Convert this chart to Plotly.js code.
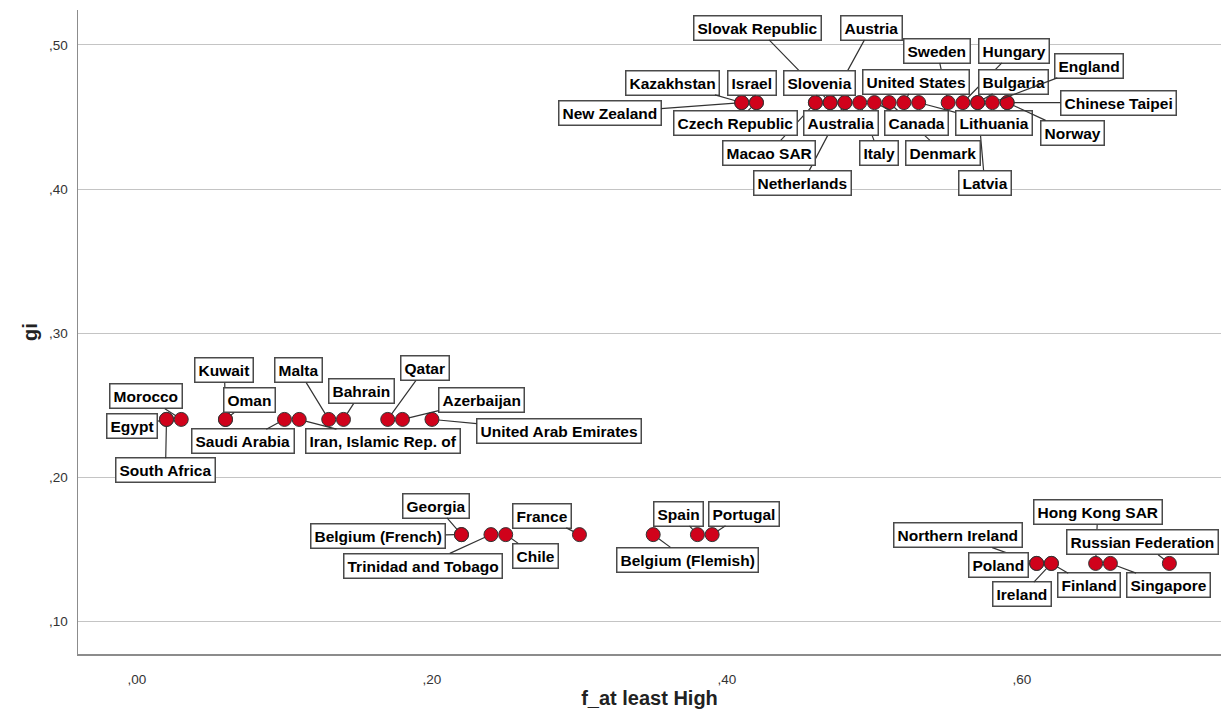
<!DOCTYPE html>
<html>
<head>
<meta charset="utf-8">
<script src="https://cdn.plot.ly/plotly-3.0.1.min.js"></script>
<style>html,body{margin:0;padding:0;background:#fff;}#chart{width:1221px;height:727px;}</style>
</head>
<body>
<div id="chart"></div>
<script>
// ---- data ----
const countries = [
  "Netherlands","Latvia","Macao SAR","Italy","Denmark",
  "Slovak Republic","Austria","Sweden","Hungary",
  "Kazakhstan","Israel","Slovenia","United States","Bulgaria","England","Chinese Taipei",
  "New Zealand","Czech Republic","Australia","Canada","Lithuania","Norway",
  "Kuwait","Malta","Qatar","South Africa",
  "Morocco","Egypt","Oman","Saudi Arabia","Iran, Islamic Rep. of","Bahrain","Azerbaijan","United Arab Emirates",
  "Georgia","Belgium (French)","Trinidad and Tobago","Chile","France","Belgium (Flemish)","Spain","Portugal",
  "Hong Kong SAR","Northern Ireland","Russian Federation","Poland","Ireland","Finland","Singapore"
];
const fAtLeastHigh = [
  0.48,0.57,0.46,0.49,0.51,
  0.47,0.47,0.55,0.56,
  0.41,0.42,0.46,0.52,0.57,0.58,0.59,
  0.41,0.42,0.48,0.50,0.53,0.59,
  0.06,0.13,0.17,0.02,
  0.03,0.02,0.06,0.10,0.11,0.14,0.18,0.20,
  0.22,0.22,0.24,0.25,0.30,0.35,0.38,0.39,
  0.65,0.61,0.70,0.61,0.62,0.62,0.66
];
const gi = [
  0.46,0.46,0.46,0.46,0.46,
  0.46,0.46,0.46,0.46,
  0.46,0.46,0.46,0.46,0.46,0.46,0.46,
  0.46,0.46,0.46,0.46,0.46,0.46,
  0.24,0.24,0.24,0.24,
  0.24,0.24,0.24,0.24,0.24,0.24,0.24,0.24,
  0.16,0.16,0.16,0.16,0.16,0.16,0.16,0.16,
  0.14,0.14,0.14,0.14,0.14,0.14,0.14
];
const xTickVals = [0, 0.2, 0.4, 0.6];
const xTickText = [",00", ",20", ",40", ",60"];
const yTickVals = [0.1, 0.2, 0.3, 0.4, 0.5];
const yTickText = [",10", ",20", ",30", ",40", ",50"];

// ---- label placement (pixel offsets of each label box from its point) ----
const labelOffsets = [
  [-42,80],[7,80],[-46,50],[19,50],[54,50],
  [-73,-75],[41,-75],[-11,-52],[51,-52],
  [-69,-20],[-4,-20],[4,-20],[12,-21],[36,-21],[97,-37],[111,0],
  [-132,10],[-21,20],[-4,20],[42,20],[75,20],[65,30],
  [-1,-49],[-30,-49],[37,-51],[-1,51],
  [-35,-23],[-34,7],[24,-19],[-41,22],[84,22],[18,-28],[79,-19],[127,12],
  [-25,-29],[-83,1],[-68,31],[30,21],[-37,-19],[34,25],[-19,-21],[32,-21],
  [2,-51],[-79,-28],[-27,-21],[-38,2],[-29,31],[38,22],[58,22]
];

const annotations = countries.map((c, i) => ({
  x: fAtLeastHigh[i], y: gi[i], xref: 'x', yref: 'y',
  text: c, showarrow: true, arrowhead: 0, arrowwidth: 1.2, arrowcolor: '#333',
  ax: labelOffsets[i][0], ay: labelOffsets[i][1], standoff: 6.5,
  font: {family: 'Liberation Sans, Arial, sans-serif', size: 15.5, color: '#000', weight: 'bold'},
  bgcolor: '#fff', bordercolor: '#4a4a4a', borderwidth: 1.5, borderpad: 3
}));

const trace = {
  type: 'scatter', mode: 'markers',
  x: fAtLeastHigh, y: gi, text: countries, hoverinfo: 'text',
  marker: {size: 14, color: '#d0021b', line: {color: '#333', width: 1}}
};

const layout = {
  width: 1221, height: 727,
  margin: {l: 78, r: 0, t: 10, b: 73},
  paper_bgcolor: '#fff', plot_bgcolor: '#fff',
  showlegend: false,
  xaxis: {
    range: [-0.04, 0.735], tickvals: xTickVals, ticktext: xTickText,
    showgrid: false, zeroline: false, showline: true, linecolor: '#8c8c8c', linewidth: 1.5,
    ticks: '', ticklabelstandoff: 12,
    tickfont: {family: 'Liberation Sans, Arial, sans-serif', size: 13.5, color: '#333'},
    title: {text: 'f_at least High', standoff: 5, font: {family: 'Liberation Sans, Arial, sans-serif', size: 20, color: '#222', weight: 'bold'}}
  },
  yaxis: {
    range: [0.0771, 0.5243], tickvals: yTickVals, ticktext: yTickText,
    showgrid: true, gridcolor: '#c4c4c4', gridwidth: 1, zeroline: false,
    showline: true, linecolor: '#8c8c8c', linewidth: 1.5, ticks: '', ticklabelstandoff: 6,
    tickfont: {family: 'Liberation Sans, Arial, sans-serif', size: 13.5, color: '#333'},
    title: {text: 'gi', standoff: 6, font: {family: 'Liberation Sans, Arial, sans-serif', size: 20, color: '#222', weight: 'bold'}}
  },
  annotations: annotations
};

Plotly.newPlot('chart', [trace], layout, {displayModeBar: false, staticPlot: true});
</script>
</body>
</html>
